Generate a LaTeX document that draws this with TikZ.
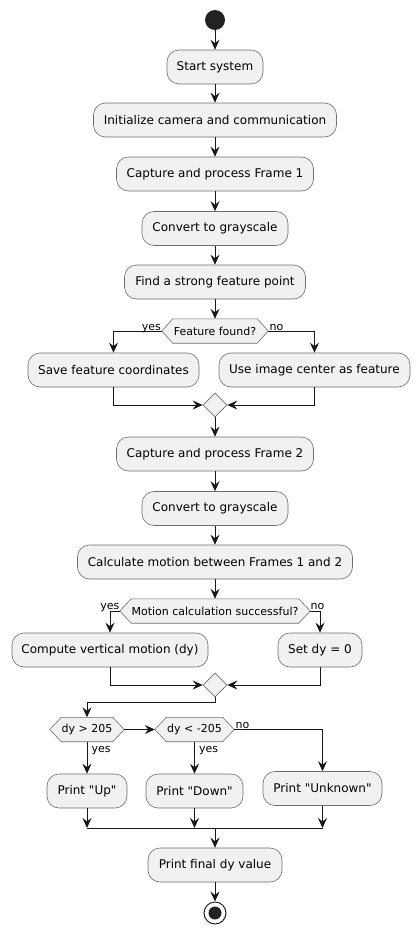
\documentclass[tikz,border=0pt]{standalone}
\usepackage{fontspec}
\setmainfont{DejaVu Sans}
\newfontfamily\dvs{DejaVu Sans}
\usetikzlibrary{arrows.meta,shapes.geometric,backgrounds,calc}
\definecolor{boxfill}{HTML}{F1F1F1}
\definecolor{boxline}{HTML}{6E6E6E}
\definecolor{ink}{HTML}{181818}
\definecolor{dot}{HTML}{222222}
\tikzset{
  actbox/.style={draw=boxline, line width=0.6pt, fill=boxfill, rounded corners=12pt,
    minimum height=34pt, inner sep=0pt, font=\dvs\fontsize{12}{14}\selectfont, text=black},
  hexnode/.style={rectangle, minimum height=24pt, inner sep=0pt,
    font=\dvs\fontsize{11}{13}\selectfont, text=black},
  hexdraw/.style={draw=boxline, line width=0.6pt, fill=boxfill},
  mergediamond/.style={diamond, draw=boxline, line width=0.6pt, fill=boxfill,
    minimum width=24pt, minimum height=24pt, inner sep=0pt},
  arr/.style={draw=ink, line width=1pt, -{Stealth[length=10pt,width=9pt,inset=3.5pt]}},
  conn/.style={draw=ink, line width=1pt},
  lbl/.style={font=\dvs\fontsize{11}{13}\selectfont, inner sep=0pt, text=black},
}
\newcommand{\hexoutline}[2]{%
  \begin{pgfonlayer}{background}
  \path[hexdraw] (#1.north west) -- (#1.north east) -- ([xshift=#2]#1.east)
    -- (#1.south east) -- (#1.south west) -- ([xshift=-#2]#1.west) -- cycle;
  \end{pgfonlayer}}
\begin{document}
\begin{tikzpicture}[x=1pt,y=-1pt]
\useasboundingbox (0,0) rectangle (420,934);
% start
\node[circle, fill=dot, minimum size=20pt, inner sep=0pt] (s) at (215,20) {};
\node[actbox, minimum width=96pt] (b1) at (215,67) {Start system};
\node[actbox, minimum width=243pt] (b2) at (215,120) {Initialize camera and communication};
\node[actbox, minimum width=197pt] (b3) at (215,174) {Capture and process Frame 1};
\node[actbox, minimum width=146pt] (b4) at (215,228.5) {Convert to grayscale};
\node[actbox, minimum width=181pt] (b5) at (215,282) {Find a strong feature point};
\node[hexnode, minimum width=84pt] (h1) at (215,331) {Feature found?};
\hexoutline{h1}{11pt}
\coordinate (h1w) at ([xshift=-11pt]h1.west);
\coordinate (h1e) at ([xshift=11pt]h1.east);
\node[actbox, minimum width=171pt] (save) at (113.5,370) {Save feature coordinates};
\node[actbox, minimum width=191pt] (use) at (314.5,370) {Use image center as feature};
\node[mergediamond] (d1) at (215,405) {};
\node[actbox, minimum width=197pt] (c2) at (215,454) {Capture and process Frame 2};
\node[actbox, minimum width=146pt] (g2) at (215,508.5) {Convert to grayscale};
\node[actbox, minimum width=275pt] (calc) at (215,562) {Calculate motion between Frames 1 and 2};
\node[hexnode, minimum width=167pt] (h2) at (215,611) {Motion calculation successful?};
\hexoutline{h2}{11.5pt}
\coordinate (h2w) at ([xshift=-11.5pt]h2.west);
\coordinate (h2e) at ([xshift=11.5pt]h2.east);
\node[actbox, minimum width=196pt] (comp) at (110,650) {Compute vertical motion (dy)};
\node[actbox, minimum width=84pt] (setdy) at (320,650) {Set dy = 0};
\node[mergediamond] (d2) at (215,685) {};
\node[hexnode, minimum width=51pt] (ha) at (87,729.5) {dy > 205};
\hexoutline{ha}{11.5pt}
\coordinate (haw) at ([xshift=-11.5pt]ha.west);
\coordinate (hae) at ([xshift=11.5pt]ha.east);
\node[hexnode, minimum width=56pt] (hb) at (194.5,729.5) {dy < -205};
\hexoutline{hb}{11.5pt}
\coordinate (hbw) at ([xshift=-11.5pt]hb.west);
\coordinate (hbe) at ([xshift=11.5pt]hb.east);
\node[actbox, minimum width=80pt] (up) at (87,791) {Print "Up"};
\node[actbox, minimum width=97pt] (down) at (194.5,791) {Print "Down"};
\node[actbox, minimum width=119pt] (unk) at (322.5,788.5) {Print "Unknown"};
\coordinate (m) at (215,828);
\node[actbox, minimum width=134pt] (fin) at (215,865) {Print final dy value};
\node[circle, draw=dot, line width=1pt, fill=white, minimum size=22pt, inner sep=0pt] (e) at (215,913) {};
\node[circle, fill=dot, minimum size=13pt, inner sep=0pt] (ei) at (215,913) {};
% connectors
\draw[arr] (s) -- (b1);
\draw[arr] (b1) -- (b2);
\draw[arr] (b2) -- (b3);
\draw[arr] (b3) -- (b4);
\draw[arr] (b4) -- (b5);
\draw[arr] (b5) -- (h1);
\draw[arr] (h1w) -| (save);
\draw[arr] (h1e) -| (use);
\node[lbl, anchor=base east] (l1) at (161,330) {yes};
\node[lbl, anchor=base west] (l2) at (269.5,330) {no};
\draw[arr] (save) |- (d1);
\draw[arr] (use) |- (d1);
\draw[arr] (d1) -- (c2);
\draw[arr] (c2) -- (g2);
\draw[arr] (g2) -- (calc);
\draw[arr] (calc) -- (h2);
\draw[arr] (h2w) -| (comp);
\draw[arr] (h2e) -| (setdy);
\node[lbl, anchor=base east] (l3) at (119.5,609.5) {yes};
\node[lbl, anchor=base west] (l4) at (310.5,609.5) {no};
\draw[arr] (comp) |- (d2);
\draw[arr] (setdy) |- (d2);
\draw[arr] (d2.south) -- ++(0,5) -| (ha.north);
\draw[arr] (hae) -- (hbw);
\draw[arr] (ha) -- (up);
\draw[arr] (hb) -- (down);
\draw[arr] (hbe) -| (unk);
\node[lbl, anchor=base west] (l5) at (91.5,752) {yes};
\node[lbl, anchor=base west] (l6) at (199,752) {yes};
\node[lbl, anchor=base west] (l7) at (235.5,728) {no};
\draw[arr] (up) -- (up.south |- m);
\draw[arr] (down) -- (down.south |- m);
\draw[arr] (unk) -- (unk.south |- m);
\draw[conn] (up.south |- m) -- (unk.south |- m);
\draw[arr] (m) -- (fin);
\draw[arr] (fin) -- (e);
\end{tikzpicture}
\end{document}
